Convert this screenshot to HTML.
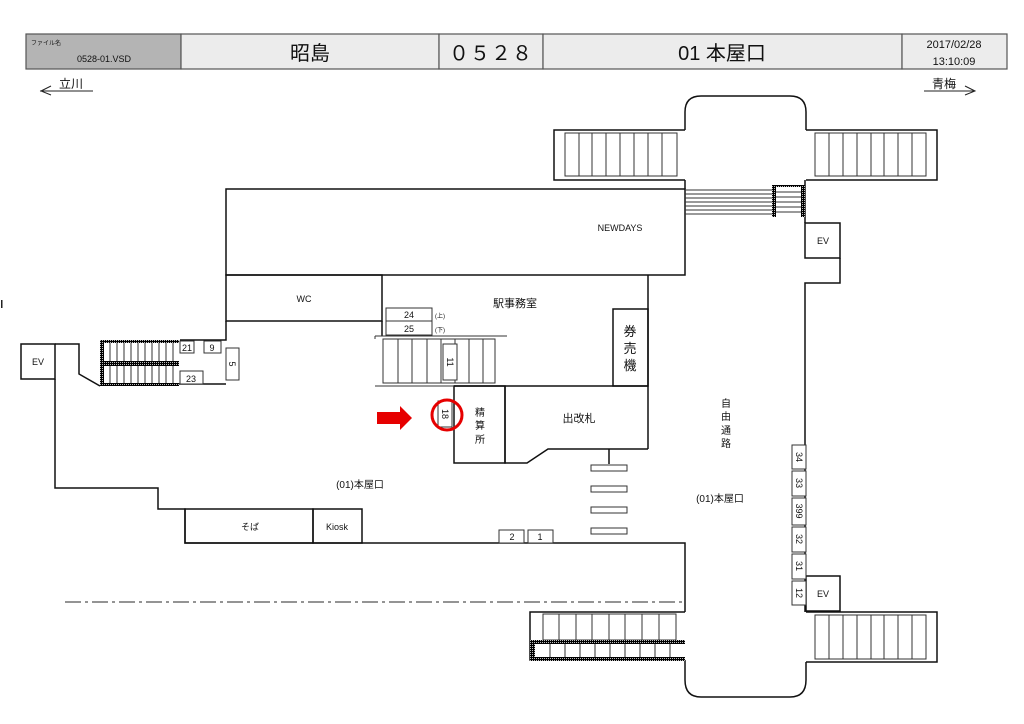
<!DOCTYPE html>
<html><head><meta charset="utf-8"><style>
html,body{margin:0;padding:0;background:#fff;}
svg{display:block;}
text{font-family:"Liberation Sans","Noto Sans CJK JP",sans-serif;fill:#111;}
</style></head><body>
<svg width="1024" height="724" viewBox="0 0 1024 724" xmlns="http://www.w3.org/2000/svg">
<defs>
<pattern id="hp" width="2" height="2" patternUnits="userSpaceOnUse"><rect width="2" height="2" fill="#000"/><rect width="1" height="1" fill="#bbb"/></pattern>
</defs>
<!-- header -->
<g stroke="#555" stroke-width="1.2">
<rect x="26" y="34" width="155" height="35" fill="#b4b4b4"/>
<rect x="181" y="34" width="258" height="35" fill="#ececec"/>
<rect x="439" y="34" width="104" height="35" fill="#ececec"/>
<rect x="543" y="34" width="359" height="35" fill="#ececec"/>
<rect x="902" y="34" width="105" height="35" fill="#ececec"/>
</g>
<text x="31" y="45" font-size="6">ファイル名</text>
<text x="77" y="62" font-size="9">0528-01.VSD</text>
<text x="310" y="60" font-size="20" text-anchor="middle">昭島</text>
<text x="491" y="60" font-size="20" text-anchor="middle" letter-spacing="1">０５２８</text>
<text x="722" y="60" font-size="20" text-anchor="middle">01 本屋口</text>
<text x="954" y="48" font-size="11" text-anchor="middle">2017/02/28</text>
<text x="954" y="65" font-size="11" text-anchor="middle">13:10:09</text>
<!-- direction arrows -->
<g stroke="#222" stroke-width="1" fill="none">
<line x1="40" y1="91" x2="93" y2="91"/><polyline points="51,86 41,91 51,95"/>
<line x1="924" y1="91" x2="975" y2="91"/><polyline points="965,86 975,91 965,95"/>
</g>
<text x="59" y="88" font-size="12">立川</text>
<text x="932" y="88" font-size="12">青梅</text>
<rect x="1" y="300" width="1.5" height="8" fill="#222"/>

<g stroke="#111" stroke-width="1.5" fill="none">
<!-- top pod -->
<path d="M685,130 L685,112 Q685,96 701,96 L790,96 Q806,96 806,112 L806,130"/>
<!-- top stairs -->
<path d="M685,130 L554,130 L554,180 L685,180"/>
<path d="M806,130 L937,130 L937,180 L806,180"/>
<!-- NEWDAYS -->
<rect x="226" y="189" width="459" height="86"/>
<line x1="685" y1="180" x2="685" y2="189"/>
<!-- WC -->
<rect x="226" y="275" width="156" height="46"/>
<line x1="382" y1="321" x2="382" y2="336"/>
<line x1="648" y1="275" x2="648" y2="449"/>
<line x1="454" y1="386" x2="648" y2="386"/>
<rect x="613" y="309" width="35" height="77"/>
<rect x="454" y="386" width="51" height="77"/>
<path d="M505,386 L505,463 L527,463 L548,449 L648,449"/>
<line x1="609" y1="449" x2="609" y2="464"/>
<!-- right wall -->
<path d="M805,180 L805,223"/>
<rect x="805" y="223" width="35" height="35"/>
<path d="M840,258 L840,283 L805,283 L805,612"/>
<rect x="806" y="576" width="34" height="35"/>
<!-- left area -->
<rect x="21" y="344" width="34" height="35"/>
<path d="M55,344 L79,344 L79,374 L100,386"/>
<path d="M55,379 L55,488 L158,488 L158,509 L185,509 L185,543 L685,543 L685,612"/>
<rect x="185" y="509" width="128" height="34"/>
<rect x="313" y="509" width="49" height="34"/>
<path d="M226,321 L226,340 L180,340"/>
<line x1="179" y1="384" x2="226" y2="384"/>
<!-- bottom pod -->
<path d="M685,660 L685,680 Q685,697 701,697 L790,697 Q806,697 806,680 L806,662"/>
<path d="M806,612 L937,612 L937,662 L806,662"/>
<path d="M685,612 L530,612 L530,660 L685,660"/>
</g>

<g stroke="#333" stroke-width="1" fill="none">
<rect x="565" y="133" width="112" height="43"/>
<path d="M579,133V176M592,133V176M606,133V176M620,133V176M634,133V176M648,133V176M662,133V176"/>
<rect x="815" y="133" width="111" height="43"/>
<path d="M829,133V176M843,133V176M857,133V176M871,133V176M884,133V176M898,133V176M912,133V176"/>
<path d="M685,190H775M685,194H775M685,198H775M685,202H775M685,206H775M685,210H775M685,214H775"/>
<path d="M776,192H802M776,197H802M776,202H802M776,207H802M776,212H802"/>
<rect x="815" y="615" width="111" height="44"/>
<path d="M829,615V659M843,615V659M857,615V659M871,615V659M884,615V659M898,615V659M912,615V659"/>
<path d="M543,614H676V640H543Z"/>
<path d="M559,614V640M576,614V640M592,614V640M609,614V640M625,614V640M642,614V640M659,614V640"/>
<path d="M550,644V658M565,644V658M580,644V658M595,644V658M610,644V658M625,644V658M640,644V658M655,644V658M670,644V658"/>
<line x1="375" y1="336" x2="507" y2="336"/>
<line x1="375" y1="386" x2="454" y2="386"/>
<line x1="375" y1="336" x2="375" y2="339"/>
<rect x="383" y="339" width="112" height="44"/>
<path d="M398,339V383M412,339V383M427,339V383M441,339V383M455,339V383M469,339V383M483,339V383"/>
<path d="M110,343V361M117,343V361M124,343V361M131,343V361M138,343V361M145,343V361M152,343V361M159,343V361M166,343V361M173,343V361"/>
<path d="M110,366V383M117,366V383M124,366V383M131,366V383M138,366V383M145,366V383M152,366V383M159,366V383M166,366V383M173,366V383"/>
</g>
<g fill="url(#hp)">
<rect x="100" y="340" width="79" height="3"/>
<rect x="100" y="361" width="79" height="5"/>
<rect x="100" y="383" width="79" height="3"/>
<rect x="100" y="340" width="4" height="46"/>
<rect x="530" y="640" width="155" height="4"/>
<rect x="530" y="657" width="155" height="4"/>
<rect x="530" y="640" width="5" height="21"/>
<rect x="772" y="185" width="4" height="32"/>
<rect x="801" y="185" width="4" height="32"/>
<rect x="776" y="185" width="25" height="2"/>
</g>
<line x1="65" y1="602" x2="685" y2="602" stroke="#555" stroke-width="1.2" stroke-dasharray="16,4,3,4"/>
<g stroke="#333" stroke-width="1" fill="#fff">
<rect x="180" y="341" width="14" height="12"/><rect x="204" y="341" width="17" height="12"/>
<rect x="226" y="348" width="13" height="32"/><rect x="180" y="371" width="23" height="13"/>
<rect x="386" y="308" width="46" height="13"/><rect x="386" y="321" width="46" height="14"/>
<rect x="443" y="344" width="14" height="36"/><rect x="438" y="401" width="14" height="26"/>
<rect x="499" y="530" width="25" height="13"/><rect x="528" y="530" width="25" height="13"/>
<rect x="591" y="465" width="36" height="6"/><rect x="591" y="486" width="36" height="6"/>
<rect x="591" y="507" width="36" height="6"/><rect x="591" y="528" width="36" height="6"/>
<rect x="792" y="445" width="14" height="24"/><rect x="792" y="471" width="14" height="25"/>
<rect x="792" y="498" width="14" height="27"/><rect x="792" y="527" width="14" height="25"/>
<rect x="792" y="554" width="14" height="25"/><rect x="792" y="581" width="14" height="24"/>
</g>
<g font-size="9" text-anchor="middle">
<text x="187" y="351">21</text><text x="212" y="351">9</text><text x="191" y="382">23</text>
<text x="409" y="318">24</text><text x="409" y="332">25</text>
<text x="512" y="540">2</text><text x="540" y="540">1</text>
<text transform="translate(229,364) rotate(90)">5</text>
<text transform="translate(447,362) rotate(90)">11</text>
<text transform="translate(442,414) rotate(90)">18</text>
<text transform="translate(796,457) rotate(90)">34</text>
<text transform="translate(796,483) rotate(90)">33</text>
<text transform="translate(796,511) rotate(90)">399</text>
<text transform="translate(796,539) rotate(90)">32</text>
<text transform="translate(796,566) rotate(90)">31</text>
<text transform="translate(796,593) rotate(90)">12</text>
</g>
<text x="435" y="318" font-size="6">(上)</text>
<text x="435" y="332" font-size="6">(下)</text>
<g font-size="9" text-anchor="middle">
<text x="38" y="365">EV</text><text x="823" y="244">EV</text><text x="823" y="597">EV</text>
<text x="304" y="302">WC</text>
<text x="620" y="231">NEWDAYS</text>
<text x="337" y="530">Kiosk</text>
<text x="250" y="530">そば</text>
<text x="515" y="307" font-size="11">駅事務室</text>
<text x="579" y="422" font-size="11">出改札</text>
<text x="360" y="488" font-size="10">(01)本屋口</text>
<text x="720" y="502" font-size="10">(01)本屋口</text>
<text x="630" y="336" font-size="13">券</text><text x="630" y="353" font-size="13">売</text><text x="630" y="370" font-size="13">機</text>
<text x="480" y="416" font-size="10">精</text><text x="480" y="429" font-size="10">算</text><text x="480" y="443" font-size="10">所</text>
<text x="726" y="407" font-size="10">自</text><text x="726" y="420" font-size="10">由</text><text x="726" y="434" font-size="10">通</text><text x="726" y="447" font-size="10">路</text>
</g>
<polygon points="377,412 400,412 400,406 412,418 400,430 400,424 377,424" fill="#e60000"/>
<circle cx="447" cy="415" r="15" fill="none" stroke="#e60000" stroke-width="3"/>
</svg>
</body></html>
